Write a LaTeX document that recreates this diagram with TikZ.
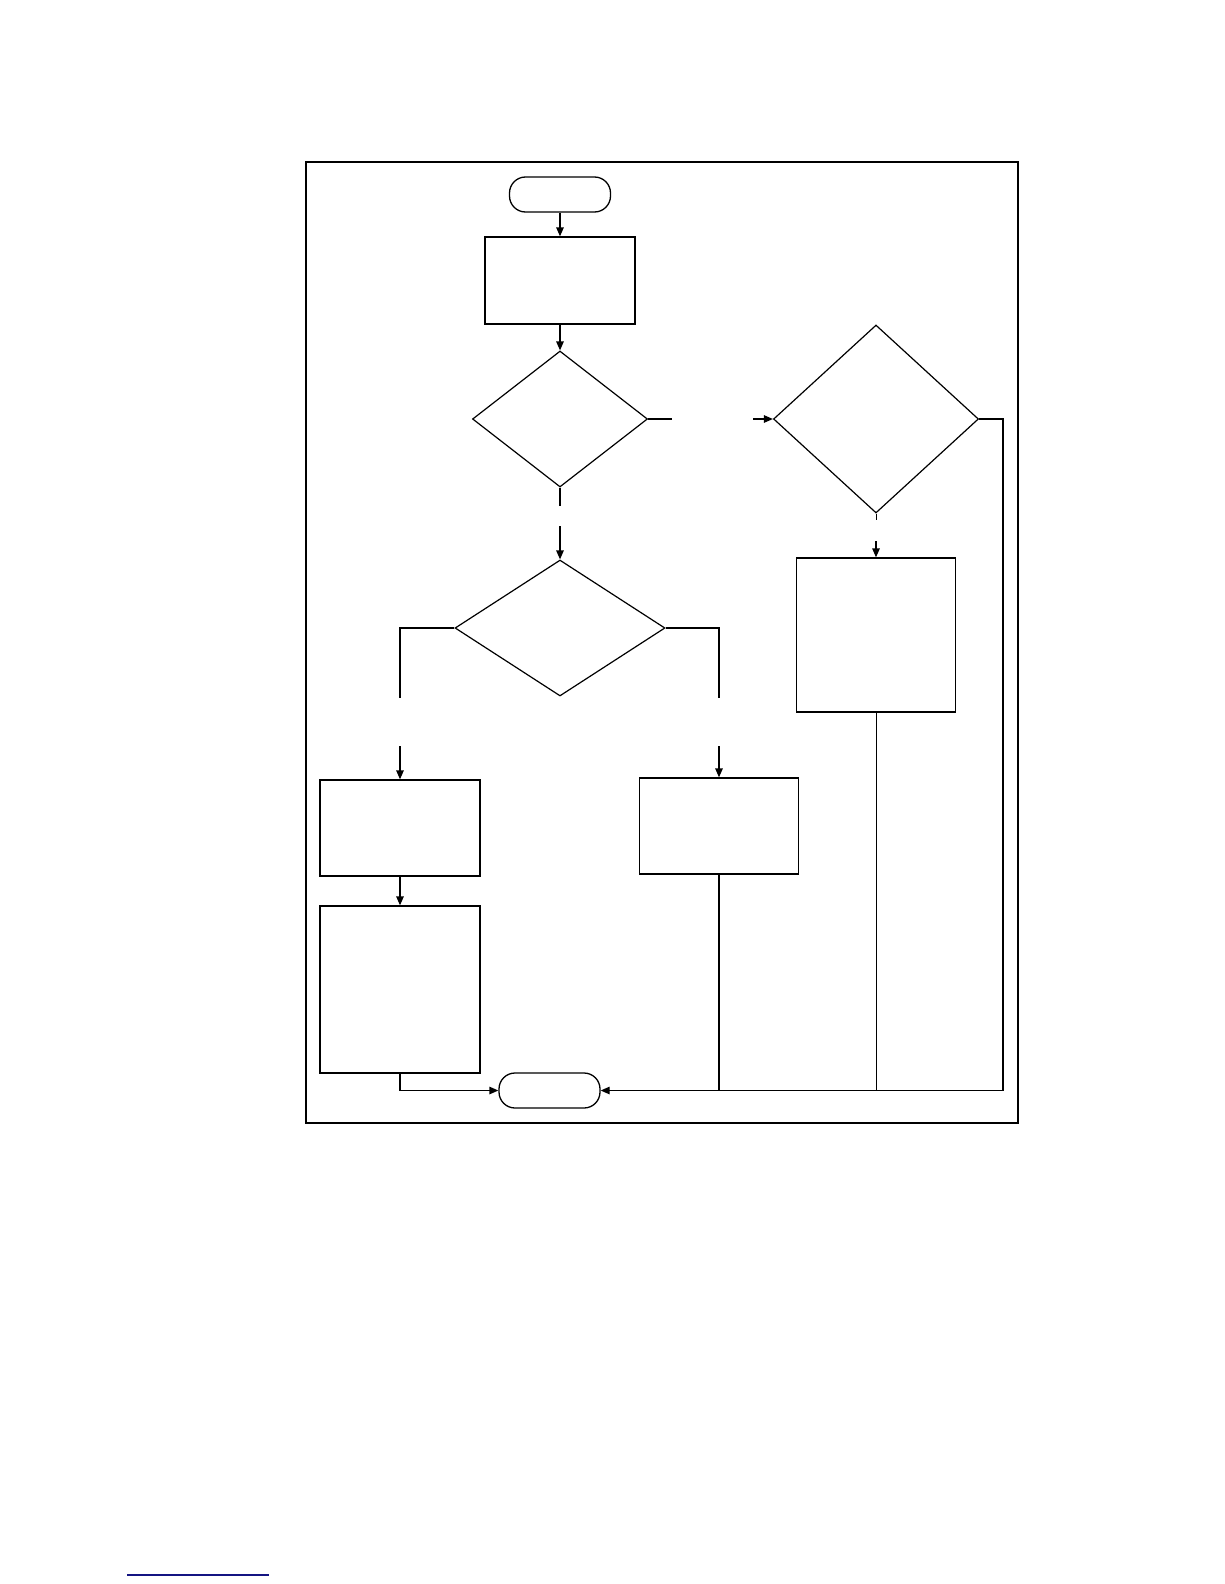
\documentclass[tikz,border=0pt]{standalone}
\usetikzlibrary{shapes.geometric,arrows.meta}

\definecolor{LinkColor}{RGB}{20,20,130}

\begin{document}
\begin{tikzpicture}[
		x=1pt, y=-1pt,
		terminal/.style={draw, line width=1.3pt, rounded corners=16pt, inner sep=0pt, minimum width=101pt, minimum height=35pt},
		process/.style={draw, line width=1.3pt, inner sep=0pt},
		decision/.style={draw, diamond, line width=1.2pt, inner sep=0pt},
		flow/.style={line width=1.3pt},
		thinflow/.style={line width=1pt},
		tip/.style={-{Triangle[length=9pt, width=7.5pt]}}
	]
	\useasboundingbox (0, 0) rectangle (1224, 1584);

	% Frame
	\draw[line width=1.8pt] (306, 162) rectangle (1018, 1123);

	% Terminals
	\node[terminal] (begin) at (560, 194.5) {};
	\node[terminal] (finish) at (549.5, 1090.5) {};

	% Rectangles
	\node[process, minimum width=150pt, minimum height=87pt] (setup) at (560, 280.5) {};
	\node[process, minimum width=159pt, minimum height=154pt] (actRight) at (876, 635) {};
	\node[process, minimum width=160pt, minimum height=96pt] (actLeftA) at (400, 828) {};
	\node[process, minimum width=160pt, minimum height=167pt] (actLeftB) at (400, 989.5) {};
	\node[process, minimum width=159pt, minimum height=96pt] (actMid) at (719, 826) {};

	% Diamonds
	\node[decision, minimum width=175pt, minimum height=136pt] (testOne) at (560, 419) {};
	\node[decision, minimum width=205pt, minimum height=188pt] (testTwo) at (876, 419) {};
	\node[decision, minimum width=210pt, minimum height=136pt] (testThree) at (560, 628) {};

	% Breaks in the lines
	\coordinate (oneRightA) at (672, 419);
	\coordinate (oneRightB) at (753, 419);
	\coordinate (oneDownA) at (560, 506);
	\coordinate (oneDownB) at (560, 526);
	\coordinate (twoDownA) at (876, 520);
	\coordinate (twoDownB) at (876, 541);
	\coordinate (threeLeftA) at (400, 698);
	\coordinate (threeLeftB) at (400, 746);
	\coordinate (threeRightA) at (719, 698);
	\coordinate (threeRightB) at (719, 746);
	\coordinate (loopCorner) at (1003, 1090.5);

	% Arrows
	\draw[flow, tip] (begin) -- (setup);
	\draw[flow, tip] (setup) -- (testOne);
	\draw[flow] (testOne.east) -- (oneRightA);
	\draw[flow, tip] (oneRightB) -- (testTwo.west);
	\draw[flow] (testOne.south) -- (oneDownA);
	\draw[flow, tip] (oneDownB) -- (testThree.north);
	\draw[thinflow] (testTwo.south) -- (twoDownA);
	\draw[flow, tip] (twoDownB) -- (actRight.north);
	\draw[flow] (testThree.west) -| (threeLeftA);
	\draw[flow, tip] (threeLeftB) -- (actLeftA.north);
	\draw[flow] (testThree.east) -| (threeRightA);
	\draw[flow, tip] (threeRightB) -- (actMid.north);
	\draw[flow, tip] (actLeftA) -- (actLeftB);
	\draw[flow, tip] (actLeftB.south) |- (finish.west);
	\draw[flow, tip] (actMid.south) |- (finish.east);
	\draw[flow] (testTwo.east) -| (loopCorner);
	\draw[thinflow] (loopCorner) -- (actMid.south |- finish.east);
	\draw[thinflow] (actRight.south) -- (actRight.south |- finish.east);

	% Link underline
	\draw[LinkColor, line width=1.2pt] (127, 1575) -- (269, 1575);
\end{tikzpicture}
\end{document}
